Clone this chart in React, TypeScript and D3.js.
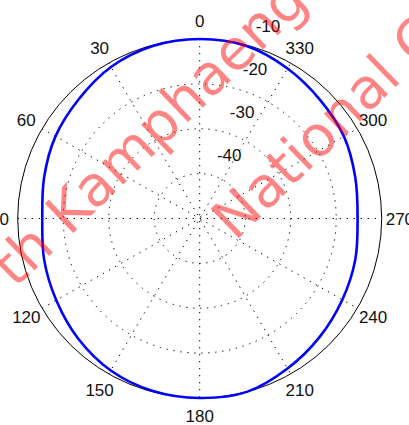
import React from "react";
import * as d3 from "d3";

// Bearing (degrees, counter-clockwise from the top) and radiated level (dB)
const patternAngles = [0, 15, 30, 45, 60, 75, 90, 105, 120, 135, 150, 165, 180, 195, 210, 225, 240, 255, 270, 285, 300, 315, 330, 345];
const patternDb = [-10.0, -10.2, -11.0, -12.4, -13.4, -14.6, -15.4, -14.6, -13.6, -12.2, -10.9, -10.2, -10.0, -10.0, -11.4, -12.7, -13.8, -14.6, -15.3, -14.6, -13.4, -12.6, -11.4, -10.2];

const angleTicks = [0, 30, 60, 90, 120, 150, 180, 210, 240, 270, 300, 330];
const radialTicks = [-40, -30, -20, -10];
const radialDomain = [-50, -10];

const watermarkLines = ["th Kamphaeng Saen", "National C"];

const W = 409;
const H = 425;
const CX = 199.7;
const CY = 218.5;
const RX = 182;
const RY = 179.5;

const rScale = d3.scaleLinear().domain(radialDomain).range([0, 1]);

function toXY(deg: number, f: number): [number, number] {
  const a = (deg * Math.PI) / 180;
  return [CX - RX * f * Math.sin(a), CY - RY * f * Math.cos(a)];
}

const tickFont = "'Liberation Sans', Arial, sans-serif";

export default function App() {
  const pts: [number, number][] = patternAngles.map((a, i) => toXY(a, rScale(patternDb[i])));
  const patternPath = d3.line().curve(d3.curveCatmullRomClosed.alpha(0.5))(pts) || "";

  const ringFractions = radialTicks.slice(0, 3).map((v) => rScale(v));
  const spokes = d3.range(0, 180, 30);

  const wmAngle = -44;
  const wmRad = (wmAngle * Math.PI) / 180;
  const wmStarts: [number, number][] = [
    [15, 289],
    [235, 242],
  ];

  return (
    <svg
      width={W}
      height={H}
      viewBox={`0 0 ${W} ${H}`}
      style={{ position: "absolute", left: 0, top: 0, background: "#fff" }}
    >
      <rect x={0} y={0} width={W} height={H} fill="#fff" />
      {/* dotted range rings */}
      {ringFractions.map((f, i) => (
        <ellipse
          key={`ring${i}`}
          cx={CX}
          cy={CY}
          rx={RX * f}
          ry={RY * f}
          fill="none"
          stroke="#000"
          strokeWidth={1}
          strokeDasharray="1.3 5.7"
        />
      ))}
      {/* dotted spokes */}
      {spokes.map((a) => {
        const [x1, y1] = toXY(a, 1);
        const [x2, y2] = toXY(a + 180, 1);
        return (
          <line
            key={`sp${a}`}
            x1={x1}
            y1={y1}
            x2={x2}
            y2={y2}
            stroke="#000"
            strokeWidth={1}
            strokeDasharray="1.3 5.7"
          />
        );
      })}
      {/* outer boundary */}
      <ellipse cx={CX} cy={CY} rx={RX} ry={RY} fill="none" stroke="#000" strokeWidth={1} />

      {/* angle labels */}
      {angleTicks.map((a) => {
        const [x, y] = toXY(a, 1.1);
        return (
          <text
            key={`al${a}`}
            x={x}
            y={y}
            dy="0.36em"
            textAnchor="middle"
            fontFamily={tickFont}
            fontSize={17}
            fill="#111"
          >
            {a}
          </text>
        );
      })}

      {/* radial labels */}
      {radialTicks.map((v) => {
        const f = rScale(v);
        const ang = (16.5 * Math.PI) / 180;
        const x = CX + (RX * f + 15) * Math.sin(ang);
        const y = CY - (RY * f + 15) * Math.cos(ang);
        return (
          <text
            key={`rl${v}`}
            x={x}
            y={y}
            textAnchor="start"
            fontFamily={tickFont}
            fontSize={17}
            fill="#111"
          >
            {v}
          </text>
        );
      })}

      {/* radiation pattern */}
      <path d={patternPath} fill="none" stroke="#0000ff" strokeWidth={2.6} strokeLinejoin="round" />

      {/* watermark */}
      {watermarkLines.map((t, i) => (
        <text
          key={`wm${i}`}
          x={0}
          y={0}
          transform={`translate(${wmStarts[i][0]},${wmStarts[i][1]}) rotate(${wmAngle})`}
          fontFamily="'DejaVu Sans', Verdana, sans-serif"
          fontSize={56}
          fill="#ff0000"
          fillOpacity={0.48}
        >
          {t}
        </text>
      ))}
    </svg>
  );
}
